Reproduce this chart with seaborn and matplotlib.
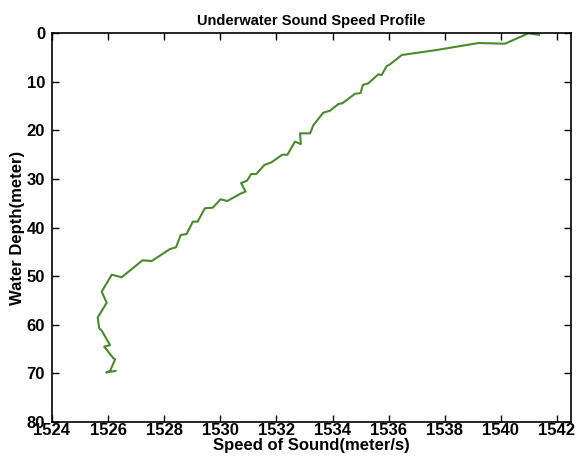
import matplotlib
matplotlib.use("Agg")
import matplotlib.pyplot as plt
import seaborn as sns
import pandas as pd

depth = [0.4, 0.06, 2.2, 2.06, 3.5, 4.52, 6.52, 6.79, 8.64, 8.49, 10.34, 10.69,
         12.35, 12.5, 14.45, 14.6, 15.98, 16.39, 18.92, 20.63, 20.63, 22.83, 22.35,
         25.03, 25.03, 26.6, 27.14, 29.0, 29.0, 30.37, 30.85, 32.6, 33.1, 34.55,
         34.2, 35.92, 36.05, 38.8, 38.8, 41.33, 41.54, 44.07, 44.42, 46.9, 46.74,
         50.24, 49.7, 53.2, 55.46, 58.5, 60.7, 61.2, 64.2, 64.5, 66.9, 67.1, 69.5,
         69.8, 69.5]
speed = [1541.37, 1540.98, 1540.15, 1539.20, 1537.71, 1536.47, 1536.03, 1535.93,
         1535.75, 1535.63, 1535.28, 1535.08, 1535.00, 1534.80, 1534.35, 1534.21,
         1533.91, 1533.67, 1533.32, 1533.20, 1532.84, 1532.87, 1532.66, 1532.39,
         1532.21, 1531.82, 1531.57, 1531.28, 1531.10, 1530.95, 1530.74, 1530.90,
         1530.70, 1530.25, 1530.01, 1529.73, 1529.45, 1529.19, 1529.02, 1528.80,
         1528.59, 1528.42, 1528.21, 1527.55, 1527.23, 1526.48, 1526.13, 1525.77,
         1525.95, 1525.63, 1525.68, 1525.77, 1526.07, 1525.86, 1526.19, 1526.25,
         1526.07, 1525.93, 1526.27]
x_ticks = [1524, 1526, 1528, 1530, 1532, 1534, 1536, 1538, 1540, 1542]
y_ticks = [0, 10, 20, 30, 40, 50, 60, 70, 80]

sns.set_theme(style="white")
plt.rcParams['font.family'] = ['Liberation Sans', 'DejaVu Sans']
plt.rcParams['text.color'] = 'black'
plt.rcParams['axes.labelcolor'] = 'black'
plt.rcParams['xtick.color'] = 'black'
plt.rcParams['ytick.color'] = 'black'

df = pd.DataFrame({"speed": speed, "depth": depth})

fig = plt.figure(figsize=(5.79, 4.59), dpi=100)
ax = fig.add_axes([52/579, 1-422/459, (571-52)/579, (422-33)/459])
sns.lineplot(data=df, x="speed", y="depth", sort=False, estimator=None,
             color="#4a8a2e", linewidth=1.5, ax=ax)

ax.set_xlim(1524, 1542.5)
ax.set_ylim(80, 0)
ax.set_xticks(x_ticks)
ax.set_yticks(y_ticks)
ax.set_xticklabels([str(t) for t in x_ticks], fontweight='bold', fontsize=12, color='black')
ax.set_yticklabels([str(t) for t in y_ticks], fontweight='bold', fontsize=12, color='black')
ax.tick_params(axis='x', pad=1)
ax.tick_params(axis='y', pad=5)
ax.tick_params(direction='in', length=5, width=1, color='black', top=True, right=True,
               bottom=True, left=True, labelcolor='black')
for s in ax.spines.values():
    s.set_color('black')
    s.set_linewidth(1.2)
ax.set_xlabel("Speed of Sound(meter/s)", fontweight='bold', fontsize=12, labelpad=0, color='black')
ax.set_ylabel("Water Depth(meter)", fontweight='bold', fontsize=12, labelpad=1, color='black')
ax.set_title("Underwater Sound Speed Profile", fontweight='bold', fontsize=10.5, pad=6, color='black')

fig.savefig("out.png", dpi=100)
